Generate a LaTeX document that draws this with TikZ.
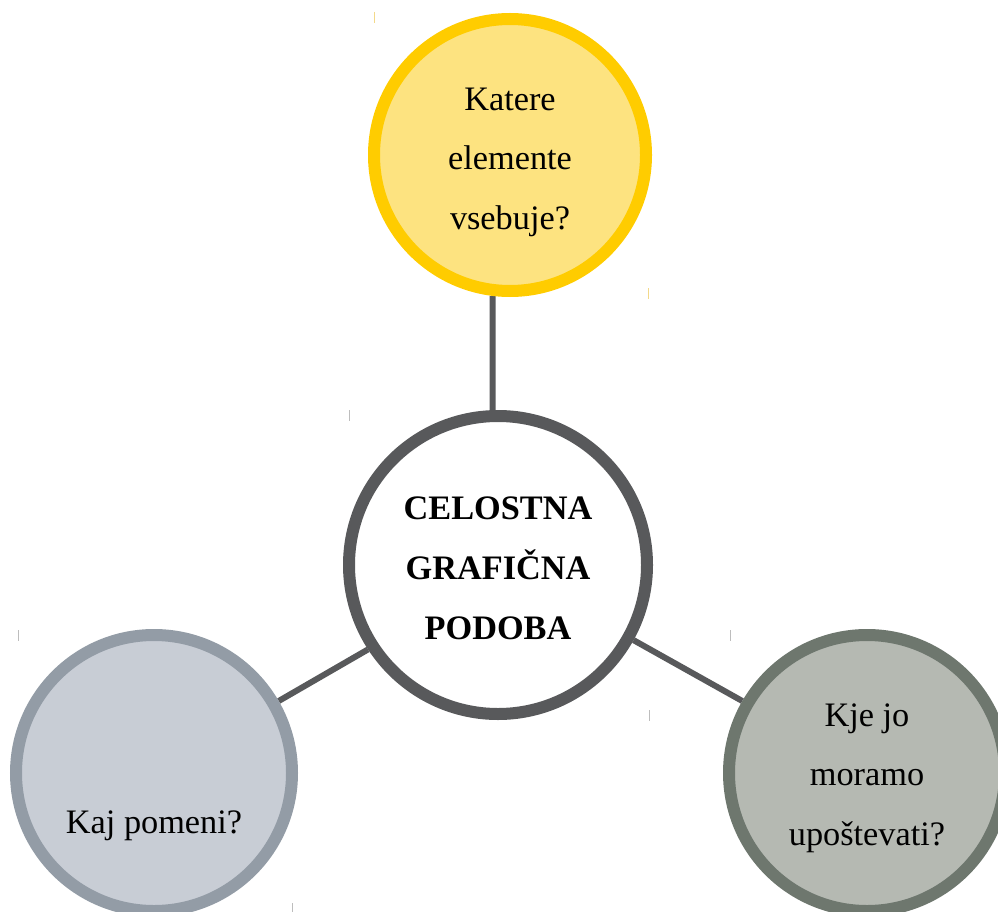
\documentclass[tikz,border=0pt]{standalone}
\usepackage{fontspec}
\setmainfont{Liberation Serif}
\usetikzlibrary{backgrounds}
\definecolor{yelfill}{HTML}{FDE380}
\definecolor{yelline}{HTML}{FFCC00}
\definecolor{darkline}{HTML}{58595B}
\definecolor{bluefill}{HTML}{C8CDD5}
\definecolor{blueline}{HTML}{939CA6}
\definecolor{greenfill}{HTML}{B5B9B2}
\definecolor{greenline}{HTML}{6E776E}
\definecolor{ytick}{HTML}{F3D98A}
\definecolor{gtick}{HTML}{BDBDBD}
\begin{document}
\begin{tikzpicture}[x=1pt,y=-1pt,
  bubble/.style={circle, line width=12pt, inner sep=0pt},
  txt/.style={align=center, font=\fontsize{34.3}{59.5}\selectfont, inner sep=0pt},
  link/.style={draw=darkline, line width=6pt},
  tickmark/.style={line width=1pt}]
\useasboundingbox (0,0) rectangle (998,912);
\node[bubble, draw=yelline, fill=yelfill, minimum size=272pt] (top) at (510,155) {};
\node[bubble, draw=darkline, fill=white, minimum size=298pt] (center) at (498,565) {};
\node[bubble, draw=blueline, fill=bluefill, minimum size=276pt] (left) at (154,773) {};
\node[bubble, draw=greenline, fill=greenfill, minimum size=276pt] (right) at (867,773) {};
\node[txt] (toptxt) at (510,162) {Katere\\elemente\\vsebuje?};
\node[txt, font=\fontsize{34.3}{60}\selectfont\bfseries] (centertxt) at (498,568) {CELOSTNA\\GRAFIČNA\\PODOBA};
\node[txt] (lefttxt) at (154,826) {Kaj pomeni?};
\node[txt] (righttxt) at (867,778) {Kje jo\\moramo\\upoštevati?};
\begin{scope}[on background layer]
\draw[link] (center.92) -- (top.263);
\draw[link] (center.213.8) -- (left.30);
\draw[link] (center.331.5) -- (right.150);
\end{scope}
\draw[tickmark, draw=ytick] (374,12) -- (374,23);
\draw[tickmark, draw=ytick] (648,288) -- (648,299);
\draw[tickmark, draw=gtick] (349,410) -- (349,421);
\draw[tickmark, draw=gtick] (649,710) -- (649,721);
\draw[tickmark, draw=gtick] (18,630) -- (18,641);
\draw[tickmark, draw=gtick] (292,903) -- (292,912);
\draw[tickmark, draw=gtick] (730,630) -- (730,641);
\end{tikzpicture}
\end{document}
